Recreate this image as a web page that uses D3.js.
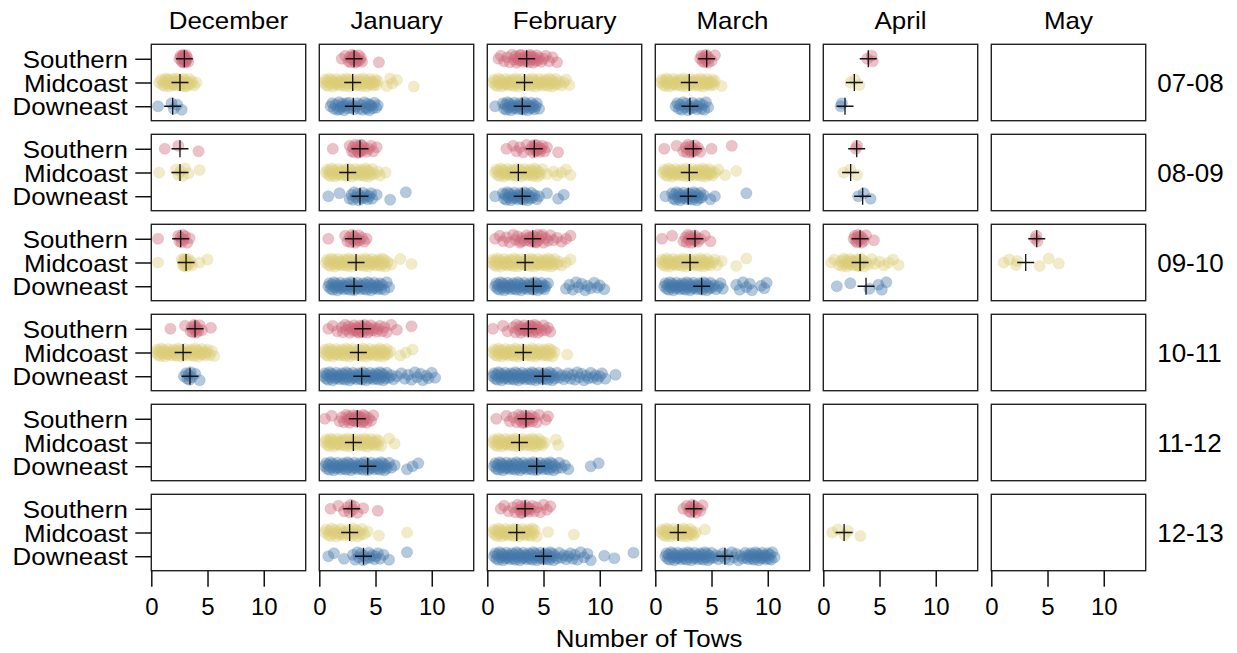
<!DOCTYPE html>
<html>
<head>
<meta charset="utf-8">
<script src="https://cdn.jsdelivr.net/npm/d3@7"></script>
<style>
  body { margin: 0; background: #fff; }
</style>
</head>
<body>
<div id="chart"></div>
<script>
const seasons = ['07-08', '08-09', '09-10', '10-11', '11-12', '12-13']
const months = ['December', 'January', 'February', 'March', 'April', 'May']
const regions = ['Southern', 'Midcoast', 'Downeast']
const xTicks = [0, 5, 10]

// tows per trip: [season, month, values]
const southernTows = [
  ['07-08', 'December', '2.5 2.6 2.7 2.75 2.8 2.85 2.9 2.95 3.0 3.0 3.05 3.1 3.15 3.2 3.3 2.9 2.8 3.0'],
  ['07-08', 'January', '2.0 2.3 2.6 2.7 2.8 2.9 3.0 3.1 3.2 3.3 3.4 3.5 3.6 3.7 3.8 2.9 3.1 3.3 3.0 5.3'],
  ['07-08', 'February', '1.0 1.2 1.5 1.8 2.0 2.2 2.4 2.5 2.6 2.7 2.8 2.9 3.0 3.1 3.2 3.3 3.4 3.5 3.6 3.7 3.8 3.9 4.0 4.1 4.2 4.3 4.4 4.5 4.6 4.8 5.0 5.2 5.5 5.8 6.2 3.0 3.4 3.8'],
  ['07-08', 'March', '4.0 4.1 4.2 4.3 4.4 4.5 4.5 4.6 4.7 4.8 5.0 5.3'],
  ['07-08', 'April', '3.9 4.3 4.4'],
  ['08-09', 'December', '1.2 2.4 4.2'],
  ['08-09', 'January', '1.2 2.7 2.9 3.0 3.1 3.2 3.3 3.4 3.5 3.6 3.7 3.8 3.9 4.0 4.2 4.4 4.6 4.8 5.1 3.5 3.7'],
  ['08-09', 'February', '1.7 2.3 2.6 2.9 3.2 3.5 3.8 4.0 4.1 4.2 4.3 4.4 4.5 4.6 4.7 4.8 4.9 5.1 5.3 6.3 4.2 4.5'],
  ['08-09', 'March', '0.8 1.9 2.5 2.7 2.8 2.9 3.0 3.1 3.2 3.3 3.4 3.5 3.6 3.8 4.0 5.0 6.8 3.3'],
  ['08-09', 'April', '2.9 3.0'],
  ['09-10', 'December', '0.6 2.4 2.5 2.6 2.7 2.8 2.9 3.0 3.2 3.4'],
  ['09-10', 'January', '0.8 2.3 2.5 2.7 2.8 2.9 3.0 3.1 3.2 3.3 3.4 3.5 3.6 3.8 4.0 4.2'],
  ['09-10', 'February', '0.7 1.1 1.4 1.7 2.0 2.3 2.5 2.7 2.9 3.1 3.3 3.5 3.7 3.8 3.9 4.0 4.1 4.2 4.3 4.4 4.5 4.6 4.8 5.0 5.2 5.4 5.6 5.9 6.2 6.6 7.0 7.4 3.0 3.7 4.3 4.9'],
  ['09-10', 'March', '0.6 1.5 2.5 2.7 2.8 2.9 3.0 3.1 3.2 3.3 3.4 3.5 3.6 3.7 3.8 4.0 4.4 4.9'],
  ['09-10', 'April', '2.7 2.8 2.9 3.0 3.0 3.1 3.2 3.3 3.4 3.5 3.6 3.8 4.5'],
  ['09-10', 'May', '3.9 4.0 4.1'],
  ['10-11', 'December', '1.7 3.0 3.5 3.6 3.7 3.8 3.85 3.9 4.0 4.1 4.2 4.3 4.5 5.3'],
  ['10-11', 'January', '0.8 1.2 1.6 2.0 2.1 2.3 2.4 2.6 2.7 2.9 3.0 3.1 3.2 3.3 3.4 3.5 3.6 3.7 3.8 3.9 4.0 4.1 4.2 4.3 4.4 4.5 4.6 4.8 4.9 5.1 5.2 5.4 5.6 5.8 6.0 6.4 6.9 8.2 3.5 4.0'],
  ['10-11', 'February', '0.5 1.4 1.8 2.3 2.5 2.6 2.8 2.9 3.0 3.1 3.2 3.3 3.4 3.5 3.6 3.7 3.8 3.9 4.0 4.1 4.2 4.3 4.4 4.5 4.6 4.8 5.0 5.2 5.4 5.6 3.5 3.9'],
  ['11-12', 'January', '0.5 1.1 1.8 2.0 2.2 2.4 2.5 2.6 2.7 2.8 2.9 3.0 3.1 3.2 3.3 3.4 3.5 3.6 3.7 3.8 3.9 4.0 4.1 4.2 4.4 4.6 4.8 3.1 3.5 3.9 2.7 3.3'],
  ['11-12', 'February', '0.8 1.7 2.0 2.3 2.6 2.8 2.9 3.0 3.1 3.2 3.3 3.4 3.5 3.6 3.7 3.8 3.9 4.0 4.2 4.4 4.6 5.2 5.4 3.3 3.7'],
  ['12-13', 'January', '1.0 1.7 2.2 2.5 2.7 2.8 3.0 3.1 3.4 3.9 5.2'],
  ['12-13', 'February', '1.2 1.5 1.9 2.3 2.5 2.7 2.9 3.0 3.1 3.2 3.3 3.4 3.5 3.6 3.7 3.8 4.0 4.2 4.4 4.7 5.0 5.3 5.6 3.0 3.6'],
  ['12-13', 'March', '2.5 2.8 3.0 3.1 3.2 3.3 3.4 3.5 3.6 3.8 4.0 4.2']
]

const midcoastTows = [
  ['07-08', 'December', '0.7 0.9 1.0 1.1 1.2 1.3 1.4 1.5 1.6 1.7 1.8 1.9 2.0 2.1 2.2 2.3 2.4 2.5 2.6 2.7 2.8 2.9 3.0 3.1 3.2 3.3 3.4 3.5 3.6 3.8 4.0 1.5 2.0 2.5 3.0 2.2 2.7'],
  ['07-08', 'January', '0.4 0.5 0.6 0.7 0.8 0.9 1.0 1.1 1.2 1.3 1.4 1.5 1.6 1.7 1.8 1.9 2.0 2.1 2.2 2.3 2.4 2.5 2.6 2.7 2.8 2.9 3.0 3.1 3.2 3.3 3.4 3.5 3.6 3.7 3.8 3.9 4.0 4.1 4.2 4.3 4.4 4.5 4.6 4.7 4.8 4.9 5.0 5.1 5.2 6.0 6.3 6.5 6.9 8.4'],
  ['07-08', 'February', '0.5 0.6 0.7 0.8 0.9 1.0 1.1 1.2 1.3 1.4 1.5 1.6 1.7 1.8 1.9 2.0 2.1 2.2 2.3 2.4 2.5 2.6 2.7 2.8 2.9 3.0 3.1 3.2 3.3 3.4 3.5 3.6 3.7 3.8 3.9 4.0 4.1 4.2 4.3 4.4 4.5 4.6 4.7 4.8 4.9 5.0 5.1 5.2 5.3 5.4 5.5 5.6 5.7 5.8 5.9 6.0 6.1 6.2 6.4 6.6 6.8 7.0 7.3'],
  ['07-08', 'March', '0.5 0.6 0.7 0.8 0.9 1.0 1.1 1.2 1.3 1.4 1.5 1.6 1.7 1.8 1.9 2.0 2.1 2.2 2.3 2.4 2.5 2.6 2.7 2.8 2.9 3.0 3.1 3.2 3.3 3.4 3.5 3.6 3.7 3.8 3.9 4.0 4.1 4.2 4.3 4.4 4.5 4.6 4.7 4.8 4.9 5.0 5.1 5.2 5.3 5.9'],
  ['07-08', 'April', '2.4 2.8 3.2'],
  ['08-09', 'December', '0.7 2.2 2.4 2.6 2.8 3.0 3.3 4.3'],
  ['08-09', 'January', '0.6 0.7 0.8 0.9 1.0 1.1 1.2 1.3 1.4 1.5 1.6 1.7 1.8 1.9 2.0 2.1 2.2 2.3 2.4 2.5 2.6 2.7 2.8 2.9 3.0 3.1 3.2 3.3 3.4 3.5 3.6 3.7 3.8 3.9 4.0 4.1 4.2 4.3 4.4 4.5 4.6 4.7 4.9 5.2 5.4 5.9'],
  ['08-09', 'February', '0.7 0.8 0.9 1.0 1.1 1.2 1.3 1.4 1.5 1.6 1.7 1.8 1.9 2.0 2.1 2.2 2.3 2.4 2.5 2.6 2.7 2.8 2.9 3.0 3.1 3.2 3.3 3.4 3.5 3.6 3.7 3.8 3.9 4.0 4.1 4.2 4.3 4.4 4.5 4.6 4.7 4.9 5.3 5.9 6.2 6.6 7.0 7.4'],
  ['08-09', 'March', '0.7 0.8 0.9 1.0 1.1 1.2 1.3 1.4 1.5 1.6 1.7 1.8 1.9 2.0 2.1 2.2 2.3 2.4 2.5 2.6 2.7 2.8 2.9 3.0 3.1 3.2 3.3 3.4 3.5 3.6 3.7 3.8 3.9 4.0 4.1 4.2 4.3 4.4 4.5 4.6 4.7 4.8 4.9 5.0 5.1 5.3 5.6 6.2 7.2'],
  ['08-09', 'April', '1.8 2.4 3.0'],
  ['09-10', 'December', '0.6 2.7 2.8 2.85 2.9 2.95 3.0 3.05 3.1 3.15 3.2 3.3 3.4 3.5 3.6 4.3 5.0'],
  ['09-10', 'January', '0.6 0.7 0.8 0.9 1.0 1.1 1.2 1.3 1.4 1.5 1.6 1.7 1.8 1.9 2.0 2.1 2.2 2.3 2.4 2.5 2.6 2.7 2.8 2.9 3.0 3.1 3.2 3.3 3.4 3.5 3.6 3.7 3.8 3.9 4.0 4.1 4.2 4.3 4.4 4.5 4.6 4.7 4.8 4.9 5.0 5.1 5.2 5.3 5.4 5.5 5.6 5.7 5.8 5.9 6.1 6.4 7.2 8.2'],
  ['09-10', 'February', '0.4 0.5 0.6 0.7 0.8 0.9 1.0 1.1 1.2 1.3 1.4 1.5 1.6 1.7 1.8 1.9 2.0 2.1 2.2 2.3 2.4 2.5 2.6 2.7 2.8 2.9 3.0 3.1 3.2 3.3 3.4 3.5 3.6 3.7 3.8 3.9 4.0 4.1 4.2 4.3 4.4 4.5 4.6 4.7 4.8 4.9 5.0 5.1 5.2 5.3 5.4 5.5 5.6 5.7 5.8 5.9 6.0 6.2 6.4 6.6 7.0 7.4'],
  ['09-10', 'March', '0.5 0.6 0.7 0.8 0.9 1.0 1.1 1.2 1.3 1.4 1.5 1.6 1.7 1.8 1.9 2.0 2.1 2.2 2.3 2.4 2.5 2.6 2.7 2.8 2.9 3.0 3.1 3.2 3.3 3.4 3.5 3.6 3.7 3.8 3.9 4.0 4.1 4.2 4.3 4.4 4.5 4.6 4.7 4.8 4.9 5.1 5.3 5.5 5.9 7.2 8.1'],
  ['09-10', 'April', '0.7 1.0 1.4 1.6 1.7 1.8 1.9 2.0 2.1 2.2 2.3 2.4 2.5 2.6 2.7 2.8 2.9 3.0 3.1 3.2 3.3 3.4 3.5 3.6 3.8 4.0 4.3 4.6 5.0 5.4 5.8 6.2 6.7 2.5 3.1'],
  ['09-10', 'May', '1.1 1.6 2.2 2.3 4.3 5.1 6.0'],
  ['10-11', 'December', '0.4 0.5 0.6 0.7 0.8 0.9 1.0 1.1 1.2 1.3 1.4 1.5 1.6 1.7 1.8 1.9 2.0 2.1 2.2 2.3 2.4 2.5 2.6 2.7 2.8 2.9 3.0 3.1 3.2 3.3 3.4 3.5 3.6 3.7 3.8 3.9 4.0 4.1 4.2 4.3 4.4 4.5 4.6 4.7 4.8 4.9 5.0 5.2 5.4 5.6'],
  ['10-11', 'January', '0.4 0.5 0.6 0.7 0.8 0.9 1.0 1.1 1.2 1.3 1.4 1.5 1.6 1.7 1.8 1.9 2.0 2.1 2.2 2.3 2.4 2.5 2.6 2.7 2.8 2.9 3.0 3.1 3.2 3.3 3.4 3.5 3.6 3.7 3.8 3.9 4.0 4.1 4.2 4.3 4.4 4.5 4.6 4.7 4.8 4.9 5.0 5.1 5.2 5.3 5.4 5.5 5.6 5.7 5.8 5.9 6.0 6.1 6.3 7.2 7.7 8.3'],
  ['10-11', 'February', '0.5 0.6 0.7 0.8 0.9 1.0 1.1 1.2 1.3 1.4 1.5 1.6 1.7 1.8 1.9 2.0 2.1 2.2 2.3 2.4 2.5 2.6 2.7 2.8 2.9 3.0 3.1 3.2 3.3 3.4 3.5 3.6 3.7 3.8 3.9 4.0 4.1 4.2 4.3 4.4 4.5 4.6 4.7 4.8 4.9 5.0 5.1 5.2 5.3 5.4 5.5 5.6 5.7 5.8 6.0 7.1'],
  ['11-12', 'January', '0.5 0.6 0.7 0.8 0.9 1.0 1.1 1.2 1.3 1.4 1.5 1.6 1.7 1.8 1.9 2.0 2.1 2.2 2.3 2.4 2.5 2.6 2.7 2.8 2.9 3.0 3.1 3.2 3.3 3.4 3.5 3.6 3.7 3.8 3.9 4.0 4.1 4.2 4.3 4.4 4.5 4.6 4.7 4.8 4.9 5.0 5.1 5.2 5.3 5.5 6.2 6.7'],
  ['11-12', 'February', '0.5 0.6 0.7 0.8 0.9 1.0 1.1 1.2 1.3 1.4 1.5 1.6 1.7 1.8 1.9 2.0 2.1 2.2 2.3 2.4 2.5 2.6 2.7 2.8 2.9 3.0 3.1 3.2 3.3 3.4 3.5 3.6 3.7 3.8 3.9 4.0 4.1 4.2 4.3 4.4 4.5 4.6 4.7 4.8 4.9 5.1 6.1 6.3'],
  ['12-13', 'January', '0.5 0.6 0.8 0.9 1.0 1.1 1.3 1.4 1.5 1.6 1.8 1.9 2.0 2.1 2.2 2.4 2.5 2.6 2.8 2.9 3.0 3.1 3.3 3.4 3.5 3.7 3.8 4.0 4.3 5.3 7.8'],
  ['12-13', 'February', '0.5 0.6 0.7 0.8 0.9 1.0 1.1 1.2 1.3 1.4 1.5 1.6 1.7 1.8 1.9 2.0 2.1 2.2 2.3 2.4 2.5 2.6 2.7 2.8 2.9 3.0 3.1 3.2 3.3 3.4 3.5 3.6 3.7 3.8 3.9 4.0 4.1 4.2 4.4 5.4 7.7'],
  ['12-13', 'March', '0.5 0.6 0.7 0.8 0.9 1.0 1.1 1.2 1.3 1.4 1.5 1.6 1.7 1.8 1.9 2.0 2.1 2.2 2.3 2.4 2.5 2.6 2.7 2.8 2.9 3.0 3.1 3.2 3.3 3.4 3.6 4.4'],
  ['12-13', 'April', '0.8 1.3 1.9 2.2 3.3']
]

const downeastTows = [
  ['07-08', 'December', '0.6 1.8 2.0 2.3 2.7'],
  ['07-08', 'January', '1.0 1.15 1.3 1.45 1.6 1.75 1.9 2.05 2.2 2.35 2.5 2.65 2.8 2.95 3.1 3.25 3.4 3.55 3.7 3.85 4.0 4.15 4.3 4.45 4.6 4.75 4.9 5.05 5.2 1.8 2.1 2.4 4.2 4.5'],
  ['07-08', 'February', '0.7 1.4 1.5 1.6 1.7 1.8 1.9 2.0 2.1 2.2 2.3 2.4 2.5 2.6 2.7 2.8 2.9 3.0 3.1 3.2 3.3 3.4 3.5 3.6 3.7 3.8 3.9 4.0 4.1 4.2 4.3 4.4 4.6'],
  ['07-08', 'March', '1.8 1.95 2.1 2.2 2.35 2.5 2.6 2.75 2.9 3.0 3.15 3.3 3.4 3.55 3.7 3.8 3.95 4.1 4.2 4.35 4.5 4.7'],
  ['07-08', 'April', '1.55 1.65'],
  ['08-09', 'January', '0.8 1.8 2.7 2.85 3.0 3.1 3.25 3.4 3.5 3.65 3.8 3.9 4.05 4.2 4.3 4.45 4.6 4.7 5.1 6.3 7.7'],
  ['08-09', 'February', '0.7 1.4 1.5 1.6 1.7 1.8 1.9 2.0 2.1 2.2 2.3 2.4 2.5 2.6 2.7 2.8 2.9 3.0 3.1 3.2 3.3 3.4 3.5 3.6 3.7 3.8 3.9 4.0 4.2 4.4 4.6 5.3 6.3 6.8'],
  ['08-09', 'March', '0.9 1.5 1.6 1.7 1.8 1.9 2.0 2.1 2.2 2.3 2.4 2.5 2.6 2.7 2.8 2.9 3.0 3.1 3.2 3.3 3.4 3.5 3.6 3.7 3.8 3.9 4.0 4.1 4.3 4.9 5.3 8.1'],
  ['08-09', 'April', '3.1 3.6 4.2'],
  ['09-10', 'January', '0.8 0.9 1.0 1.1 1.2 1.3 1.4 1.5 1.6 1.7 1.8 1.9 2.0 2.1 2.2 2.3 2.4 2.5 2.6 2.7 2.8 2.9 3.0 3.1 3.2 3.3 3.4 3.5 3.6 3.7 3.8 3.9 4.0 4.1 4.2 4.3 4.4 4.5 4.6 4.7 4.8 4.9 5.0 5.1 5.2 5.3 5.4 5.5 5.6 5.8 6.0 6.2'],
  ['09-10', 'February', '0.7 0.8 0.9 1.0 1.1 1.2 1.3 1.4 1.5 1.6 1.7 1.8 1.9 2.0 2.1 2.2 2.3 2.4 2.5 2.6 2.7 2.8 2.9 3.0 3.1 3.2 3.3 3.4 3.5 3.6 3.7 3.8 3.9 4.0 4.1 4.2 4.3 4.4 4.5 4.6 4.7 4.8 4.9 5.0 5.1 5.2 5.4 7.0 7.3 7.6 7.9 8.1 8.4 8.7 8.9 9.2 9.5 9.8 10.0 10.4'],
  ['09-10', 'March', '0.8 0.9 1.0 1.1 1.2 1.3 1.4 1.5 1.6 1.7 1.8 1.9 2.0 2.1 2.2 2.3 2.4 2.5 2.6 2.7 2.8 2.9 3.0 3.1 3.2 3.3 3.4 3.5 3.6 3.7 3.8 3.9 4.0 4.1 4.2 4.3 4.4 4.5 4.6 4.7 4.8 4.9 5.0 5.2 5.4 5.6 5.8 6.0 7.2 7.5 7.8 8.1 8.4 8.6 9.4 9.7 9.9'],
  ['09-10', 'April', '1.2 2.4 4.1 4.9 5.2 5.6'],
  ['10-11', 'December', '2.9 3.1 3.2 3.3 3.4 3.5 3.6 3.9 4.3'],
  ['10-11', 'January', '0.4 0.5 0.6 0.7 0.8 0.9 1.0 1.1 1.2 1.3 1.4 1.5 1.6 1.7 1.8 1.9 2.0 2.1 2.2 2.3 2.4 2.5 2.6 2.7 2.8 2.9 3.0 3.1 3.2 3.3 3.4 3.5 3.6 3.7 3.8 3.9 4.0 4.1 4.2 4.3 4.4 4.5 4.6 4.7 4.8 4.9 5.0 5.1 5.2 5.3 5.4 5.5 5.6 5.7 5.8 5.9 6.0 6.2 6.4 6.6 6.9 7.3 7.6 7.9 8.2 8.5 8.7 9.0 9.2 9.5 9.7 10.0 10.3'],
  ['10-11', 'February', '0.5 0.6 0.7 0.8 0.9 1.0 1.1 1.2 1.3 1.4 1.5 1.6 1.7 1.8 1.9 2.0 2.1 2.2 2.3 2.4 2.5 2.6 2.7 2.8 2.9 3.0 3.1 3.2 3.3 3.4 3.5 3.6 3.7 3.8 3.9 4.0 4.1 4.2 4.3 4.4 4.5 4.6 4.7 4.8 4.9 5.0 5.1 5.2 5.3 5.4 5.5 5.6 5.7 5.8 5.9 6.0 6.2 6.4 6.6 6.8 7.0 7.2 7.4 7.6 7.8 8.0 8.2 8.4 8.6 8.8 9.0 9.2 9.4 9.6 9.8 10.0 10.2 10.5 11.4'],
  ['11-12', 'January', '0.5 0.6 0.7 0.8 0.9 1.0 1.1 1.2 1.3 1.4 1.5 1.6 1.7 1.8 1.9 2.0 2.1 2.2 2.3 2.4 2.5 2.6 2.7 2.8 2.9 3.0 3.1 3.2 3.3 3.4 3.5 3.6 3.7 3.8 3.9 4.0 4.1 4.2 4.3 4.4 4.5 4.6 4.7 4.8 4.9 5.0 5.1 5.2 5.3 5.4 5.5 5.6 5.7 5.8 5.9 6.0 6.2 6.4 6.7 7.8 8.3 8.8'],
  ['11-12', 'February', '0.6 0.7 0.8 0.9 1.0 1.1 1.2 1.3 1.4 1.5 1.6 1.7 1.8 1.9 2.0 2.1 2.2 2.3 2.4 2.5 2.6 2.7 2.8 2.9 3.0 3.1 3.2 3.3 3.4 3.5 3.6 3.7 3.8 3.9 4.0 4.1 4.2 4.3 4.4 4.5 4.6 4.7 4.8 4.9 5.0 5.1 5.2 5.3 5.4 5.5 5.6 5.7 5.8 5.9 6.0 6.2 6.4 6.6 6.9 7.2 9.2 9.9'],
  ['12-13', 'January', '0.8 1.3 2.2 3.0 3.2 3.4 3.5 3.7 3.9 4.0 4.2 4.4 4.5 4.7 4.9 5.0 5.2 5.4 5.7 6.2 7.8'],
  ['12-13', 'February', '0.6 0.7 0.8 0.9 1.0 1.1 1.2 1.3 1.4 1.5 1.6 1.7 1.8 1.9 2.0 2.1 2.2 2.3 2.4 2.5 2.6 2.7 2.8 2.9 3.0 3.1 3.2 3.3 3.4 3.5 3.6 3.7 3.8 3.9 4.0 4.1 4.2 4.3 4.4 4.5 4.6 4.7 4.8 4.9 5.0 5.1 5.2 5.3 5.4 5.5 5.6 5.7 5.8 5.9 6.0 6.2 6.4 6.6 6.8 7.0 7.2 7.4 7.6 7.8 8.0 8.3 8.6 8.9 9.2 10.4 11.3 13.0'],
  ['12-13', 'March', '0.9 1.0 1.1 1.2 1.3 1.4 1.5 1.6 1.7 1.8 1.9 2.0 2.1 2.2 2.3 2.4 2.5 2.6 2.7 2.8 2.9 3.0 3.1 3.2 3.3 3.4 3.5 3.6 3.7 3.8 3.9 4.0 4.1 4.2 4.3 4.4 4.5 4.6 4.7 4.8 4.9 5.0 5.2 5.4 5.6 5.8 6.0 6.2 6.4 6.6 6.8 7.0 7.2 7.4 7.6 7.8 8.0 8.1 8.2 8.3 8.4 8.5 8.6 8.7 8.8 8.9 9.0 9.1 9.2 9.3 9.4 9.5 9.6 9.7 9.8 9.9 10.0 10.1 10.2 10.3 10.4 10.6']
]

// means shown by the crosses
const southernMeans = [
  ['07-08', 'December', 2.94], ['07-08', 'January', 3.09], ['07-08', 'February', 3.5], ['07-08', 'March', 4.57], ['07-08', 'April', 4.0],
  ['08-09', 'December', 2.55], ['08-09', 'January', 3.62], ['08-09', 'February', 4.18], ['08-09', 'March', 3.38], ['08-09', 'April', 2.97],
  ['09-10', 'December', 2.61], ['09-10', 'January', 3.03], ['09-10', 'February', 4.04], ['09-10', 'March', 3.53], ['09-10', 'April', 3.27], ['09-10', 'May', 4.04],
  ['10-11', 'December', 3.89], ['10-11', 'January', 3.86], ['10-11', 'February', 3.65],
  ['11-12', 'January', 3.38], ['11-12', 'February', 3.44],
  ['12-13', 'January', 2.88], ['12-13', 'February', 3.36], ['12-13', 'March', 3.43]
]
const midcoastMeans = [
  ['07-08', 'December', 2.55], ['07-08', 'January', 2.97], ['07-08', 'February', 3.31], ['07-08', 'March', 3.02], ['07-08', 'April', 2.76],
  ['08-09', 'December', 2.55], ['08-09', 'January', 2.53], ['08-09', 'February', 2.76], ['08-09', 'March', 3.02], ['08-09', 'April', 2.43],
  ['09-10', 'December', 3.09], ['09-10', 'January', 3.27], ['09-10', 'February', 3.36], ['09-10', 'March', 3.09], ['09-10', 'April', 3.27], ['09-10', 'May', 3.06],
  ['10-11', 'December', 2.83], ['10-11', 'January', 3.47], ['10-11', 'February', 3.2],
  ['11-12', 'January', 3.03], ['11-12', 'February', 2.85],
  ['12-13', 'January', 2.7], ['12-13', 'February', 2.62], ['12-13', 'March', 2.03], ['12-13', 'April', 1.85]
]
const downeastMeans = [
  ['07-08', 'December', 1.9], ['07-08', 'January', 3.03], ['07-08', 'February', 3.11], ['07-08', 'March', 3.08], ['07-08', 'April', 1.93],
  ['08-09', 'January', 3.62], ['08-09', 'February', 3.11], ['08-09', 'March', 2.93], ['08-09', 'April', 3.5],
  ['09-10', 'January', 3.09], ['09-10', 'February', 4.1], ['09-10', 'March', 4.12], ['09-10', 'April', 3.8],
  ['10-11', 'December', 3.44], ['10-11', 'January', 3.77], ['10-11', 'February', 4.93],
  ['11-12', 'January', 4.31], ['11-12', 'February', 4.39],
  ['12-13', 'January', 3.93], ['12-13', 'February', 5.0], ['12-13', 'March', 6.19]
]

const width = 1237, height = 653
const padLeft = 151.3, padTop = 44.3, colStep = 168, rowStep = 90
const panelW = 154.4, panelH = 76.4
const jitter = [0, -3, 2.5, -1.5, 3.5, -4, 1, -2.5, 4, -0.5, 2, -3.5, 1.5, -1, 3]

const points = []
;[['Southern', southernTows], ['Midcoast', midcoastTows], ['Downeast', downeastTows]].forEach(([region, rows]) => {
  rows.forEach(([season, month, vals]) => {
    vals.split(' ').map(Number).forEach((v, k) => points.push({season, month, region, v, k}))
  })
})
const means = []
;[['Southern', southernMeans], ['Midcoast', midcoastMeans], ['Downeast', downeastMeans]].forEach(([region, rows]) => {
  rows.forEach(([season, month, v]) => means.push({season, month, region, v}))
})

const x = d3.scaleLinear().domain([0, 13.73]).range([0, panelW])
const y = d3.scalePoint().domain(regions).range([0, panelH]).padding(0.61)
const colour = d3.scaleOrdinal().domain(regions).range(['#CC6677', '#DDCC77', '#4477AA'])

const svg = d3.select('#chart').append('svg')
  .attr('width', width)
  .attr('height', height)
  .style('font-family', '"Liberation Sans", Arial, sans-serif')

// month titles
svg.selectAll('.month-title').data(months).enter().append('text')
  .attr('class', 'month-title')
  .attr('text-anchor', 'middle')
  .attr('font-size', 24)
  .attr('transform', (d, j) => `translate(${padLeft + j * colStep + panelW / 2},28.5) scale(1.08,1)`)
  .text(d => d)

// season labels
svg.selectAll('.season-label').data(seasons).enter().append('text')
  .attr('class', 'season-label')
  .attr('x', padLeft + 5 * colStep + panelW + 11.5)
  .attr('y', (d, i) => padTop + i * rowStep + panelH / 2 + 9.5)
  .attr('font-size', 26)
  .text(d => d)

seasons.forEach((season, i) => {
  months.forEach((month, j) => {
    const g = svg.append('g').attr('transform', `translate(${padLeft + j * colStep},${padTop + i * rowStep})`)
    const clipId = `clip-${i}-${j}`
    g.append('clipPath').attr('id', clipId)
      .append('rect').attr('width', panelW).attr('height', panelH)

    const inner = g.append('g').attr('clip-path', `url(#${clipId})`)
    inner.selectAll('circle')
      .data(points.filter(p => p.season === season && p.month === month))
      .enter().append('circle')
      .attr('cx', d => x(d.v))
      .attr('cy', d => y(d.region) + jitter[d.k % jitter.length])
      .attr('r', 5.6)
      .attr('fill', d => colour(d.region))
      .attr('fill-opacity', 0.4)
      .attr('stroke', d => colour(d.region))
      .attr('stroke-opacity', 0.25)
      .attr('stroke-width', 0.8)

    inner.selectAll('path.mean')
      .data(means.filter(m => m.season === season && m.month === month))
      .enter().append('path')
      .attr('class', 'mean')
      .attr('d', d => {
        const cx = x(d.v), cy = y(d.region)
        return `M${cx - 8.5},${cy}h17M${cx},${cy - 8.5}v17`
      })
      .attr('stroke', '#111')
      .attr('stroke-width', 1.3)
      .attr('fill', 'none')

    g.append('rect')
      .attr('width', panelW).attr('height', panelH)
      .attr('fill', 'none').attr('stroke', '#222').attr('stroke-width', 1.4)

    if (j === 0) {
      const yAxis = g.append('g').call(d3.axisLeft(y).tickSize(16).tickSizeOuter(0).tickPadding(7))
      yAxis.select('.domain').remove()
      yAxis.selectAll('line').attr('stroke', '#111').attr('stroke-width', 1.5)
      yAxis.selectAll('text')
        .attr('font-size', 24)
        .attr('fill', '#000')
        .attr('font-family', '"Liberation Sans", Arial, sans-serif')
        .attr('x', 0)
        .attr('dy', '0.36em')
        .attr('transform', 'translate(-23.5,0) scale(1.08,1)')
    }
    if (i === seasons.length - 1) {
      const xAxis = g.append('g').attr('transform', `translate(0,${panelH})`)
        .call(d3.axisBottom(x).tickValues(xTicks).tickSize(16).tickPadding(11))
      xAxis.select('.domain').remove()
      xAxis.selectAll('line').attr('stroke', '#111').attr('stroke-width', 1.5)
      xAxis.selectAll('text')
        .attr('font-size', 24)
        .attr('fill', '#000')
        .attr('font-family', '"Liberation Sans", Arial, sans-serif')
    }
  })
})

svg.append('text')
  .attr('text-anchor', 'middle')
  .attr('font-size', 24)
  .attr('transform', `translate(${padLeft + (5 * colStep + panelW) / 2 + 0.5},647) scale(1.08,1)`)
  .text('Number of Tows')
</script>
</body>
</html>
